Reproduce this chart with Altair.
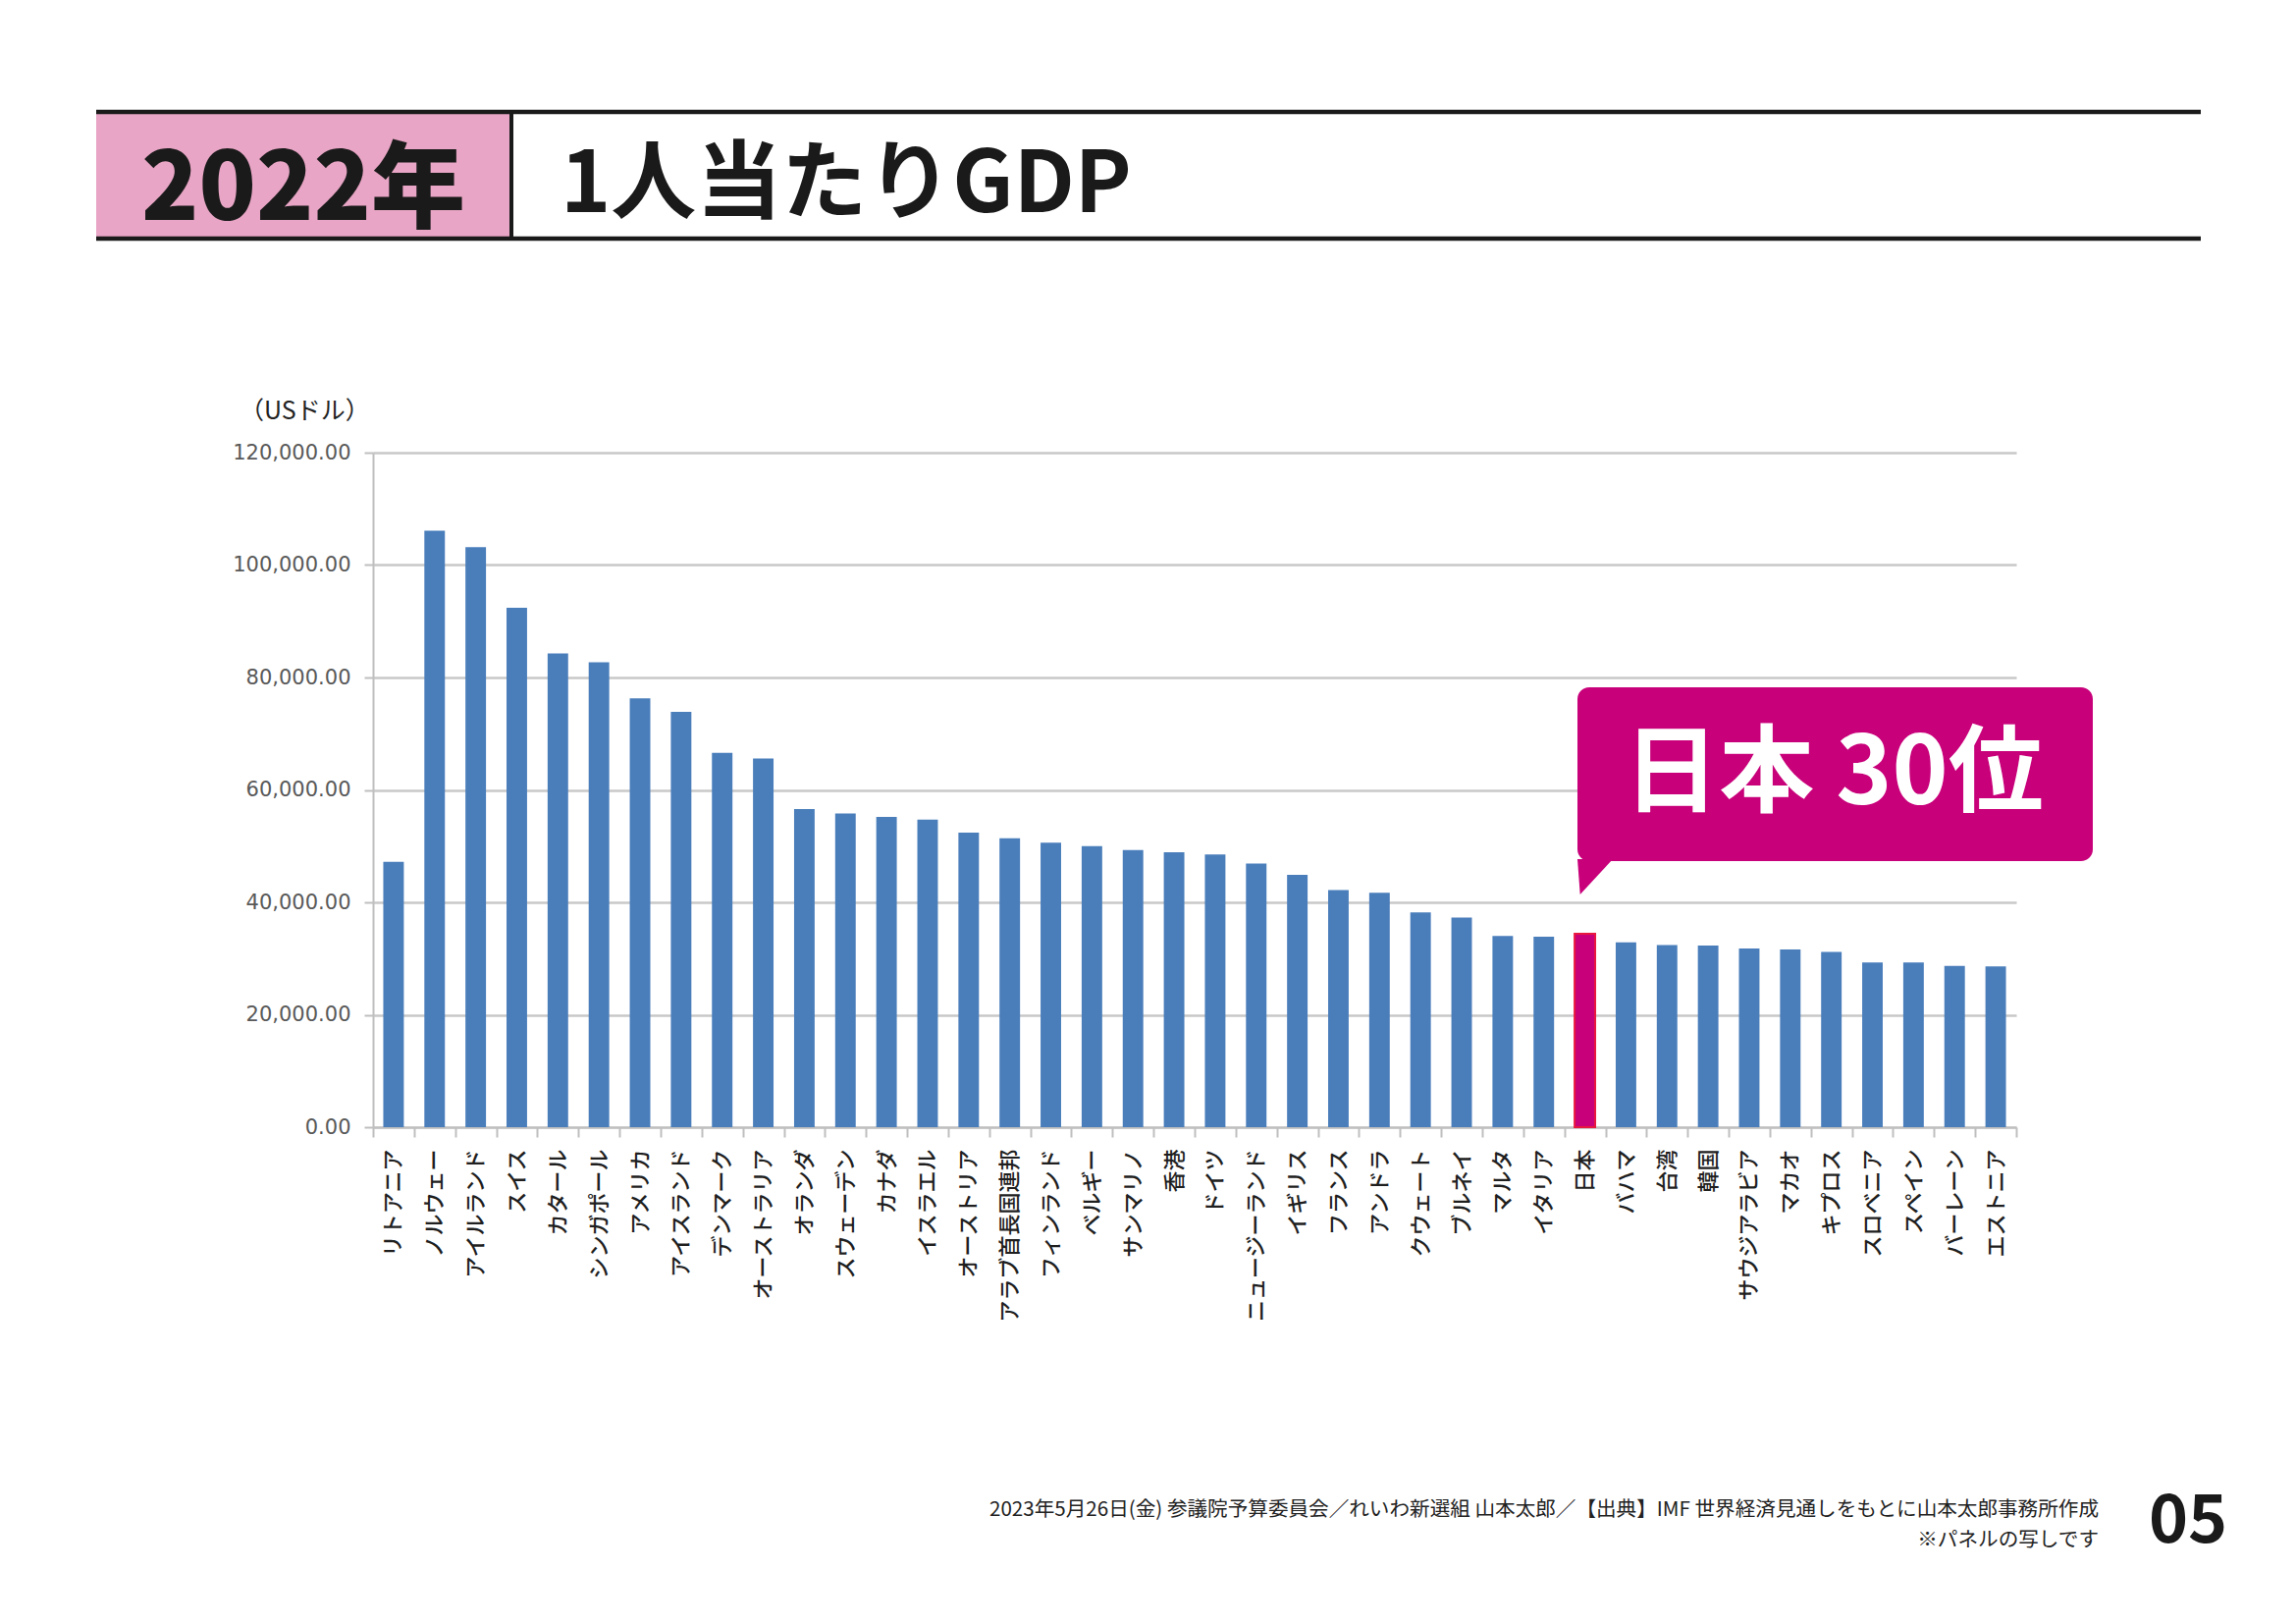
import altair as alt
import pandas as pd

# ---- data ----
countries = [
    "リトアニア", "ノルウェー", "アイルランド", "スイス", "カタール", "シンガポール",
    "アメリカ", "アイスランド", "デンマーク", "オーストラリア", "オランダ", "スウェーデン",
    "カナダ", "イスラエル", "オーストリア", "アラブ首長国連邦", "フィンランド", "ベルギー",
    "サンマリノ", "香港", "ドイツ", "ニュージーランド", "イギリス", "フランス", "アンドラ",
    "クウェート", "ブルネイ", "マルタ", "イタリア", "日本", "バハマ", "台湾", "韓国",
    "サウジアラビア", "マカオ", "キプロス", "スロベニア", "スペイン", "バーレーン", "エストニア",
]
gdp = [
    47200, 106100, 103200, 92400, 84300, 82700,
    76300, 73900, 66600, 65600, 56600, 55800,
    55200, 54700, 52400, 51400, 50600, 50000,
    49300, 48900, 48500, 46900, 44900, 42200, 41700,
    38200, 37300, 34000, 33900, 34400, 32900, 32400, 32300,
    31800, 31600, 31200, 29300, 29300, 28700, 28600,
]
highlight = "日本"
y_ticks = [0, 20000, 40000, 60000, 80000, 100000, 120000]

header_year = "2022年"
header_title = "1人当たりGDP"
unit_label = "（USドル）"
callout_text = "日本 30位"
footer_1 = "2023年5月26日(金) 参議院予算委員会／れいわ新選組 山本太郎／【出典】IMF 世界経済見通しをもとに山本太郎事務所作成"
footer_2 = "※パネルの写しです"
page_no = "05"

# ---- style ----
JP = "Noto Sans CJK JP"
BLUE = "#4A7EBB"
MAGENTA = "#C8007A"
PINK = "#E8A5C5"
GRID = "#C8C8C8"
AXIS = "#BFBFBF"
W, H = 1674, 687

df = pd.DataFrame({"country": countries, "gdp": gdp})
one = pd.DataFrame({"k": [0]})

is_hl = alt.datum.country == highlight

bars = alt.Chart(df).mark_bar(width=alt.RelativeBandSize(0.5)).encode(
    x=alt.X(
        "country:N", sort=countries, title=None,
        scale=alt.Scale(paddingInner=0, paddingOuter=0),
        axis=alt.Axis(
            labelAngle=-90, labelFont=JP, labelFontSize=22, labelFontWeight=500,
            labelColor="#1f1f1f", labelPadding=12, labelLimit=500,
            tickBand="extent", tickSize=10,
            tickColor=AXIS, tickWidth=2, domainColor=AXIS, domainWidth=2,
        ),
    ),
    y=alt.Y(
        "gdp:Q", title=None,
        scale=alt.Scale(domain=[0, 120000], nice=False),
        axis=alt.Axis(
            values=y_ticks, format=",.2f", labelFont="DejaVu Sans",
            labelFontSize=21, labelColor="#595959", labelPadding=14,
            tickSize=9, tickColor=AXIS, tickWidth=2, domainColor=AXIS, domainWidth=2,
            gridColor=GRID, gridWidth=2.5,
        ),
    ),
    color=alt.condition(is_hl, alt.value(MAGENTA), alt.value(BLUE)),
    stroke=alt.condition(is_hl, alt.value("#E8173F"), alt.value(BLUE)),
    strokeWidth=alt.condition(is_hl, alt.value(2), alt.value(0)),
)


def rule(x1, x2, y1, y2, color, w):
    return alt.Chart(one).mark_rule(color=color, strokeWidth=w).encode(
        x=alt.value(x1), x2=alt.value(x2), y=alt.value(y1), y2=alt.value(y2)
    )


def box(x1, x2, y1, y2, color, radius=0):
    return alt.Chart(one).mark_rect(color=color, cornerRadius=radius).encode(
        x=alt.value(x1), x2=alt.value(x2), y=alt.value(y1), y2=alt.value(y2)
    )


def text(t, x, y, size, weight="normal", align="left", baseline="alphabetic",
         color="#1a1a1a", font=JP):
    return alt.Chart(pd.DataFrame({"t": [t]})).mark_text(
        align=align, baseline=baseline, fontSize=size, fontWeight=weight,
        font=font, color=color,
    ).encode(x=alt.value(x), y=alt.value(y), text="t:N")


# header
header = [
    box(-282, 139, -346, -219, PINK),
    rule(-282, 1862, -347, -347, "#1a1a1a", 4.5),
    rule(-282, 1862, -218, -218, "#1a1a1a", 4.5),
    rule(141, 141, -347, -218, "#1a1a1a", 4),
    text(header_year, -71, -237, 96, weight=900, align="center"),
    text(header_title, 191, -245, 87, weight="bold"),
]

unit = text(unit_label, -136, -42, 25, baseline="middle", color="#222222")

# callout
callout = [
    box(1227, 1752, 239, 416, MAGENTA, radius=12),
    alt.Chart(one).mark_point(
        shape="M -1 -1 L 1 -1 L -0.85 1 Z", filled=True, size=36 * 36,
        color=MAGENTA, opacity=1, strokeWidth=0,
    ).encode(x=alt.value(1245), y=alt.value(432)),
    text(callout_text, 1488, 329, 97, weight="bold", align="center",
         baseline="middle", color="white"),
]

footer = [
    text(footer_1, 1758, 1077, 20.6, align="right", baseline="middle", color="#222222"),
    text(footer_2, 1758, 1108, 20.6, align="right", baseline="middle", color="#222222"),
    text(page_no, 1849, 1110, 68, weight="bold", align="center", color="#1a1a1a"),
]

chart = alt.layer(bars, *header, unit, *callout, *footer).properties(
    width=W, height=H,
    padding={"left": 372, "top": 453, "right": 269, "bottom": 485},
    autosize=alt.AutoSizeParams(type="none"),
    background="white",
).configure_view(stroke=None)

chart.save("out.html", embed_options={"renderer": "svg", "actions": False})
